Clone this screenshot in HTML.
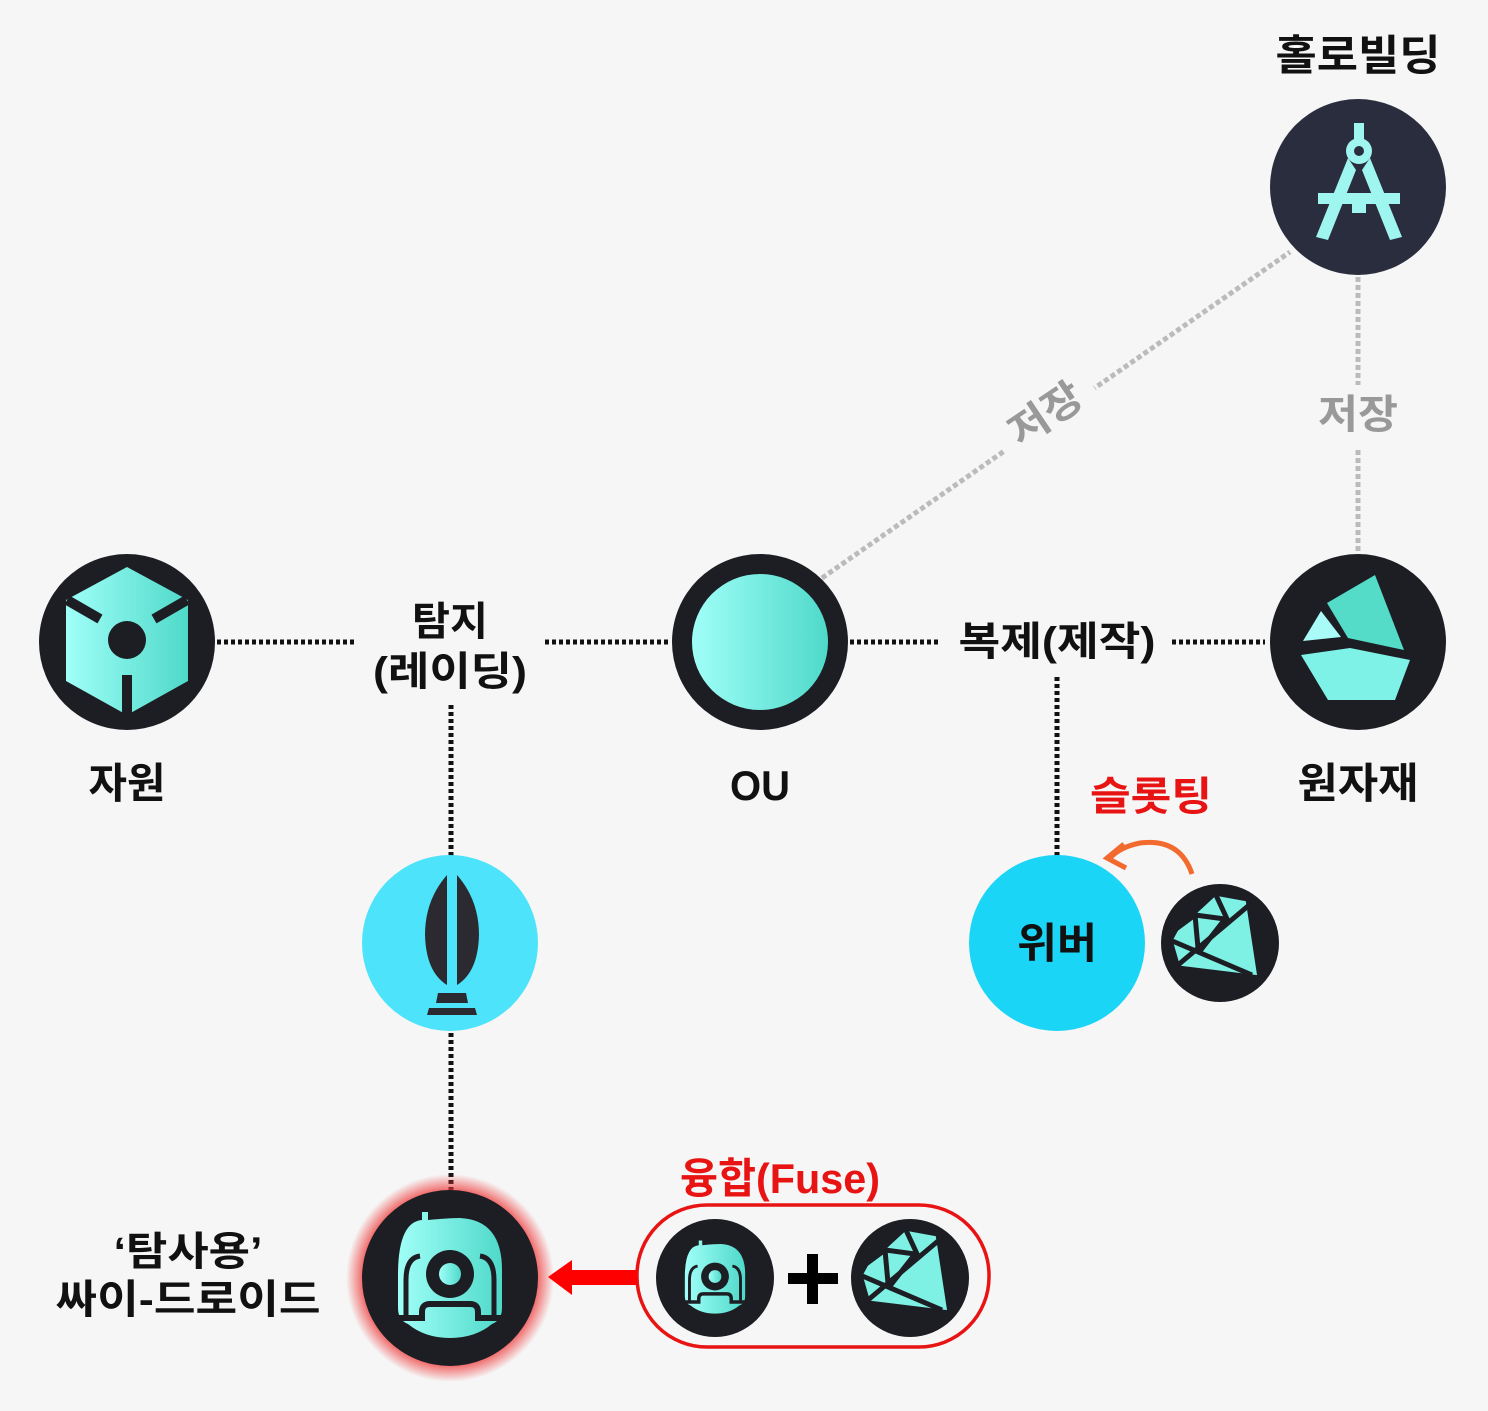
<!DOCTYPE html>
<html><head><meta charset="utf-8"><style>
html,body{margin:0;padding:0;background:#f6f6f6;}
svg{display:block;}
text{font-family:"Liberation Sans","Noto Sans CJK KR",sans-serif;font-weight:bold;}
</style></head><body>
<svg width="1488" height="1411" viewBox="0 0 1488 1411" xmlns="http://www.w3.org/2000/svg">
<defs>
<radialGradient id="glow" cx="0.5" cy="0.5" r="0.5">
<stop offset="0.8" stop-color="#e33" stop-opacity="0.9"/>
<stop offset="1" stop-color="#e33" stop-opacity="0"/>
</radialGradient>
<linearGradient id="cy" x1="0" x2="1" y1="0" y2="0">
<stop offset="0" stop-color="#a0fff8"/><stop offset="1" stop-color="#4fd9c9"/>
</linearGradient>
<g id="gem">
<polygon points="-5,-50 28,-44 40,35 -42,25 -50,-3 -44,-14" fill="#7ef0e4"/>
<g stroke="#1c1e24" stroke-width="5" fill="none" stroke-linejoin="round">
<polyline points="-44,-14 -25,-28 5,-24 -20,8"/>
<line x1="-5" y1="-50" x2="8" y2="-22"/>
<line x1="34" y1="-42" x2="-42" y2="22"/>
<line x1="-25" y1="-28" x2="-22" y2="5"/>
<line x1="-50" y1="-3" x2="32" y2="32"/>
<polygon points="-5,-50 28,-44 40,35 -42,25 -50,-3 -44,-14"/>
</g>
</g>
<g id="droid">
<path d="M-52,-5 Q-52,-58 -28,-60 L-28,-68 L-22,-68 L-22,-60 Q0,-62 10,-62 Q52,-60 52,-10 L52,28 Q52,40 42,44 Q25,58 0,58 Q-25,58 -42,44 Q-52,40 -52,28 Z" fill="url(#cy)"/>
<circle cx="0" cy="-6" r="24" fill="#1c1e24"/>
<circle cx="0" cy="-6" r="11" fill="url(#cy)"/>
<path d="M-44,36 V0 Q-44,-22 -30,-24" stroke="#1c1e24" stroke-width="5" fill="none"/>
<path d="M44,36 V0 Q44,-22 30,-24" stroke="#1c1e24" stroke-width="5" fill="none"/>
<path d="M-52,38 H-28 V32 Q-28,24 -20,24 H20 Q28,24 28,32 V38 H52" stroke="#1c1e24" stroke-width="6" fill="none"/>
</g>
</defs>

<line x1="822" y1="578" x2="1290" y2="252" stroke="#bbb" stroke-width="5" stroke-dasharray="5 3"/>
<rect x="990" y="380" width="110" height="70" fill="#f6f6f6" transform="rotate(-34 1045 413)"/>
<text x="1045" y="428" font-size="40" fill="#999" text-anchor="middle" transform="rotate(-34 1045 413)" textLength="80" lengthAdjust="spacingAndGlyphs">저장</text>
<line x1="1358" y1="277" x2="1358" y2="385" stroke="#bbb" stroke-width="5" stroke-dasharray="5 3"/>
<line x1="1358" y1="450" x2="1358" y2="552" stroke="#bbb" stroke-width="5" stroke-dasharray="5 3"/>
<text x="1358" y="428" font-size="40" fill="#999" text-anchor="middle" textLength="80" lengthAdjust="spacingAndGlyphs">저장</text>

<g stroke="#111" stroke-width="5" stroke-dasharray="4 3">
<line x1="217" y1="642" x2="355" y2="642"/>
<line x1="545" y1="642" x2="670" y2="642"/>
<line x1="850" y1="642" x2="940" y2="642"/>
<line x1="1172" y1="642" x2="1265" y2="642"/>
<line x1="451" y1="705" x2="451" y2="856"/>
<line x1="451" y1="1033" x2="451" y2="1190"/>
<line x1="1057" y1="677" x2="1057" y2="856"/>
</g>

<text x="1358" y="70" font-size="42" fill="#111" text-anchor="middle" textLength="165" lengthAdjust="spacingAndGlyphs">홀로빌딩</text>
<circle cx="1358" cy="187" r="88" fill="#2a2d3e"/>
<g fill="#9ff5ef">
<rect x="1354" y="123" width="10" height="18"/>
<circle cx="1359" cy="151" r="13"/>
<polygon points="1348,158 1316,237 1328,240 1356,170"/>
<polygon points="1370,158 1402,237 1390,240 1362,170"/>
<rect x="1318" y="193" width="82" height="11"/>
<rect x="1352" y="200" width="14" height="13"/>
</g>
<circle cx="1359" cy="151" r="5" fill="#2a2d3e"/>
<polygon points="1359,178 1368,193 1350,193" fill="#2a2d3e"/>

<circle cx="127" cy="642" r="88" fill="#1c1e24"/>
<polygon points="127,567 188,600 188,681 127,715 66,681 66,600" fill="url(#cy)"/>
<g stroke="#1c1e24" stroke-width="10">
<line x1="67" y1="600" x2="100" y2="619"/>
<line x1="187" y1="600" x2="154" y2="619"/>
<line x1="127" y1="675" x2="127" y2="715"/>
</g>
<circle cx="127" cy="640" r="19" fill="#1c1e24"/>
<text x="127" y="798" font-size="42" fill="#111" text-anchor="middle" textLength="77" lengthAdjust="spacingAndGlyphs">자원</text>

<circle cx="760" cy="642" r="88" fill="#1c1e24"/>
<circle cx="760" cy="642" r="68" fill="url(#cy)"/>
<text x="760" y="800" font-size="42" fill="#111" text-anchor="middle" textLength="60" lengthAdjust="spacingAndGlyphs">OU</text>

<circle cx="1358" cy="642" r="88" fill="#1c1e24"/>
<polygon points="1327,603 1375,575 1404,650 1348,638" fill="#54dcc9"/>
<polygon points="1321,611 1341,637 1303,641" fill="#a8fbf6"/>
<polygon points="1301,655 1350,648 1410,660 1395,700 1328,700" fill="#7ff2e8"/>
<text x="1358" y="798" font-size="42" fill="#111" text-anchor="middle" textLength="121" lengthAdjust="spacingAndGlyphs">원자재</text>

<text x="450" y="635" font-size="40" fill="#111" text-anchor="middle" textLength="76" lengthAdjust="spacingAndGlyphs">탐지</text>
<text x="450" y="685" font-size="40" fill="#111" text-anchor="middle" textLength="154" lengthAdjust="spacingAndGlyphs">(레이딩)</text>
<text x="1057" y="655" font-size="40" fill="#111" text-anchor="middle" textLength="197" lengthAdjust="spacingAndGlyphs">복제(제작)</text>
<text x="1151" y="810" font-size="40" fill="#e81414" text-anchor="middle" textLength="122" lengthAdjust="spacingAndGlyphs">슬롯팅</text>

<circle cx="450" cy="943" r="88" fill="#4de3fa"/>
<path d="M447,875 Q425,900 425,935 Q426,972 447,985 Z" fill="#2a2a30"/>
<path d="M457,875 Q479,900 479,935 Q478,972 457,985 Z" fill="#2a2a30"/>
<polygon points="438,993 466,993 468,1003 436,1003" fill="#2a2a30"/>
<polygon points="429,1008 475,1008 477,1015 427,1015" fill="#2a2a30"/>

<circle cx="1057" cy="943" r="88" fill="#1ad5f6"/>
<text x="1057" y="958" font-size="42" fill="#111" text-anchor="middle" textLength="80" lengthAdjust="spacingAndGlyphs">위버</text>
<path d="M1192,874 Q1180,838 1140,843 Q1120,847 1110,858" stroke="#f26a2e" stroke-width="5" fill="none"/>
<path d="M1124,844 L1107,858 L1126,868" stroke="#f26a2e" stroke-width="5" fill="none"/>
<circle cx="1220" cy="943" r="59" fill="#1c1e24"/>
<use href="#gem" x="1220" y="943"/>

<circle cx="450" cy="1278" r="104" fill="url(#glow)"/>
<circle cx="450" cy="1278" r="88" fill="#1c1e24"/>
<use href="#droid" transform="translate(450 1280)"/>
<text x="188" y="1265" font-size="40" fill="#111" text-anchor="middle" textLength="149" lengthAdjust="spacingAndGlyphs">‘탐사용’</text>
<text x="188" y="1313" font-size="40" fill="#111" text-anchor="middle" textLength="265" lengthAdjust="spacingAndGlyphs">싸이-드로이드</text>

<text x="780" y="1193" font-size="42" fill="#e81414" text-anchor="middle" textLength="200" lengthAdjust="spacingAndGlyphs">융합(Fuse)</text>
<rect x="637" y="1205" width="352" height="142" rx="70" fill="none" stroke="#e81414" stroke-width="3.5"/>
<rect x="570" y="1270" width="67" height="15" fill="#f00"/>
<polygon points="548,1277 572,1260 572,1295" fill="#f00"/>
<circle cx="715" cy="1278" r="59" fill="#1c1e24"/>
<use href="#droid" transform="translate(715 1280) scale(0.58)"/>
<rect x="788" y="1273" width="50" height="11" fill="#000"/>
<rect x="807" y="1254" width="11" height="50" fill="#000"/>
<circle cx="910" cy="1278" r="59" fill="#1c1e24"/>
<use href="#gem" x="910" y="1278"/>
</svg>
</body></html>
